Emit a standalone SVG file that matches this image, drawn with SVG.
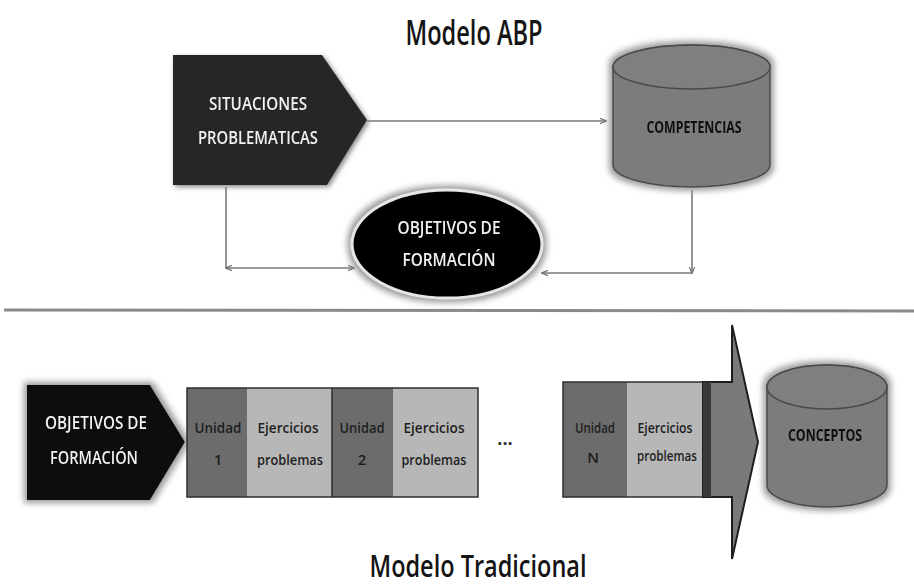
<svg xmlns="http://www.w3.org/2000/svg" width="914" height="585" viewBox="0 0 914 585">
<style>
.t{font-family:"Open Sans","Liberation Sans",sans-serif;}
.title{font-size:34px;font-weight:600;fill:#151515;}
.wt{font-size:18px;font-weight:600;fill:#f2f2f2;}
.bt{font-size:16px;font-weight:700;fill:#111;}
.st{font-size:15px;font-weight:600;fill:#1e1e1e;}
.conn{stroke:#7a7a7a;stroke-width:1.6;fill:none;}
.cyl{fill:#7b7b7b;stroke:#4a4a4a;stroke-width:1.5;}
.unit{fill:#6c6c6c;}
.ejer{fill:#b7b7b7;}
</style>
<defs>
<filter id="glow" x="-20%" y="-20%" width="140%" height="140%">
<feMorphology in="SourceAlpha" operator="dilate" radius="3" result="d"/>
<feGaussianBlur in="d" stdDeviation="3" result="b"/>
<feFlood flood-color="#9a9a9a"/>
<feComposite in2="b" operator="in" result="g"/>
<feMerge><feMergeNode in="g"/><feMergeNode in="SourceGraphic"/></feMerge>
</filter>
<filter id="shadow" x="-20%" y="-20%" width="140%" height="140%">
<feGaussianBlur in="SourceAlpha" stdDeviation="2.5" result="b"/>
<feOffset dx="2" dy="2" result="o"/>
<feFlood flood-color="#888"/>
<feComposite in2="o" operator="in" result="g"/>
<feMerge><feMergeNode in="g"/><feMergeNode in="SourceGraphic"/></feMerge>
</filter>
<marker id="ah" viewBox="0 0 10 10" refX="9" refY="5" markerWidth="7" markerHeight="7" orient="auto-start-reverse" markerUnits="userSpaceOnUse">
<path d="M0,1 L10,5 L0,9" fill="none" stroke="#6a6a6a" stroke-width="1.6"/>
</marker>
</defs>
<rect width="914" height="585" fill="#ffffff"/>

<text class="t title" x="474" y="45" text-anchor="middle" textLength="137" lengthAdjust="spacingAndGlyphs">Modelo ABP</text>

<g id="connectors">
<line class="conn" x1="367" y1="121" x2="606" y2="121" marker-end="url(#ah)"/>
<polyline class="conn" points="226,187 226,268"/>
<line class="conn" x1="226" y1="268" x2="354" y2="268" marker-start="url(#ah)" marker-end="url(#ah)"/>
<polyline class="conn" points="692,190 692,273" marker-end="url(#ah)"/>
<line class="conn" x1="692" y1="273" x2="542" y2="273" marker-end="url(#ah)"/>
</g>

<g id="situaciones" filter="url(#shadow)">
<polygon points="173,55 322,55 367,120 327,185 173,185" fill="#262626"/>
<text class="t wt" x="258" y="110" text-anchor="middle" textLength="98" lengthAdjust="spacingAndGlyphs">SITUACIONES</text>
<text class="t wt" x="258" y="144" text-anchor="middle" textLength="120" lengthAdjust="spacingAndGlyphs">PROBLEMATICAS</text>
</g>

<g id="competencias" filter="url(#glow)">
<path class="cyl" d="M613,67 A78.5,22 0 0 1 770,67 L770,165 A78.5,22 0 0 1 613,165 Z"/>
<ellipse cx="691.5" cy="67" rx="78.5" ry="22" fill="#7f7f7f" stroke="#4a4a4a" stroke-width="1.5"/>
<text class="t bt" x="694" y="133" text-anchor="middle" textLength="95" lengthAdjust="spacingAndGlyphs">COMPETENCIAS</text>
</g>

<g id="objetivos_abp" filter="url(#glow)">
<ellipse cx="447" cy="244" rx="95" ry="54" fill="#050505" stroke="#e6e6e6" stroke-width="3"/>
<text class="t wt" x="449" y="234" text-anchor="middle" textLength="103" lengthAdjust="spacingAndGlyphs">OBJETIVOS DE</text>
<text class="t wt" x="449" y="266" text-anchor="middle" textLength="93" lengthAdjust="spacingAndGlyphs">FORMACIÓN</text>
</g>

<line x1="4" y1="310" x2="914" y2="311" stroke="#8a8a8a" stroke-width="3"/>

<g id="objetivos_trad" filter="url(#glow)">
<polygon points="27,385 150,385 185,442 150,500 27,500" fill="#080808"/>
<text class="t wt" x="96" y="429" text-anchor="middle" textLength="102" lengthAdjust="spacingAndGlyphs">OBJETIVOS DE</text>
<text class="t wt" x="94" y="464" text-anchor="middle" textLength="88" lengthAdjust="spacingAndGlyphs">FORMACIÓN</text>
</g>

<g id="unidad1">
<rect class="unit" x="187" y="388" width="60" height="109"/>
<text class="t st" x="218" y="433" text-anchor="middle" textLength="47" lengthAdjust="spacingAndGlyphs">Unidad</text>
<text class="t st" x="218" y="465" text-anchor="middle">1</text>
</g>
<g id="ejercicios1">
<rect class="ejer" x="247" y="388" width="85" height="109"/>
<text class="t st" x="288" y="433" text-anchor="middle" textLength="61" lengthAdjust="spacingAndGlyphs">Ejercicios</text>
<text class="t st" x="290" y="465" text-anchor="middle" textLength="66" lengthAdjust="spacingAndGlyphs">problemas</text>
</g>
<g id="unidad2">
<rect class="unit" x="332" y="388" width="61" height="109"/>
<text class="t st" x="362" y="433" text-anchor="middle" textLength="45" lengthAdjust="spacingAndGlyphs">Unidad</text>
<text class="t st" x="362" y="465" text-anchor="middle">2</text>
</g>
<g id="ejercicios2">
<rect class="ejer" x="393" y="388" width="85" height="109"/>
<text class="t st" x="434" y="433" text-anchor="middle" textLength="61" lengthAdjust="spacingAndGlyphs">Ejercicios</text>
<text class="t st" x="434" y="465" text-anchor="middle" textLength="65" lengthAdjust="spacingAndGlyphs">problemas</text>
</g>
<rect x="187" y="388" width="291" height="109" fill="none" stroke="#2e2e2e" stroke-width="1.5"/>
<line x1="332" y1="388" x2="332" y2="497" stroke="#2e2e2e" stroke-width="1.5"/>

<text class="t" x="505" y="445" text-anchor="middle" font-size="18" font-weight="700" fill="#333">...</text>

<g id="unidadN">
<rect class="unit" x="563" y="382" width="64" height="115"/>
<text class="t st" x="595" y="433" text-anchor="middle" textLength="40" lengthAdjust="spacingAndGlyphs">Unidad</text>
<text class="t st" x="593" y="463" text-anchor="middle">N</text>
</g>
<g id="ejerciciosN">
<rect class="ejer" x="627" y="382" width="76" height="115"/>
<text class="t st" x="665" y="433" text-anchor="middle" textLength="55" lengthAdjust="spacingAndGlyphs">Ejercicios</text>
<text class="t st" x="667" y="461" text-anchor="middle" textLength="60" lengthAdjust="spacingAndGlyphs">problemas</text>
</g>
<rect x="563" y="382" width="140" height="115" fill="none" stroke="#2e2e2e" stroke-width="1.5"/>

<g id="flecha">
<polygon points="703,382 732,382 732,325 758,442 732,559 732,497 703,497" fill="#7a7a7a" stroke="#1e1e1e" stroke-width="2"/>
<rect x="703" y="382" width="8" height="115" fill="#3a3a3a"/>
</g>

<g id="conceptos" filter="url(#glow)">
<path class="cyl" d="M767,387 A60,22 0 0 1 887,387 L887,485 A60,22 0 0 1 767,485 Z"/>
<ellipse cx="827" cy="387" rx="60" ry="22" fill="#7f7f7f" stroke="#4a4a4a" stroke-width="1.5"/>
<text class="t bt" x="825" y="441" text-anchor="middle" textLength="74" lengthAdjust="spacingAndGlyphs">CONCEPTOS</text>
</g>

<text class="t" x="478" y="577" text-anchor="middle" font-size="30" font-weight="600" fill="#151515" textLength="217" lengthAdjust="spacingAndGlyphs">Modelo Tradicional</text>
</svg>
